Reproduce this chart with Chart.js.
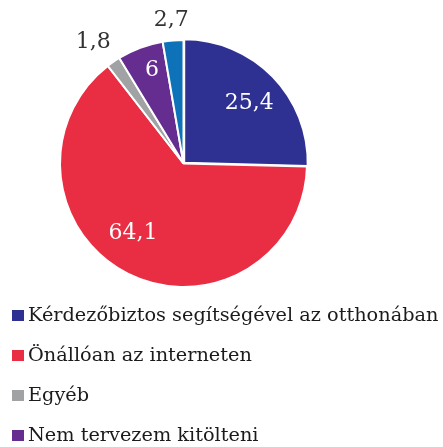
<!DOCTYPE html>
<html lang="hu">
<head>
    <meta charset="UTF-8">
    <title>Népszámlálás kitöltése</title>
    <script src="https://cdn.jsdelivr.net/npm/chart.js"></script>
    <style>
        html, body { margin: 0; padding: 0; background: #fff; overflow: hidden; }
        #wrap { position: relative; width: 443px; height: 447px; }
        #legend { position: absolute; left: 12px; top: 295px; font-family: "DejaVu Serif", serif; font-size: 19.3px; color: #1c1a1b; }
        #legend div { height: 40px; line-height: 40px; white-space: nowrap; }
        #legend span.box { display: inline-block; width: 12px; height: 11px; margin-right: 4px; vertical-align: baseline; }
    </style>
</head>
<body>
<div id="wrap">
    <canvas id="pieChart" width="443" height="300"></canvas>
    <div id="legend"></div>
</div>
<script>
    const categories = [
        'Kérdezőbiztos segítségével az otthonában',
        'Önállóan az interneten',
        'Egyéb',
        'Nem tervezem kitölteni',
        ''
    ];
    const shares = [25.4, 64.1, 1.8, 6, 2.7];
    const colors = ['#2e3192', '#e92e44', '#a0a2a3', '#662d91', '#0e72b9'];

    const fmt = v => String(v).replace('.', ',');

    // where each value label sits: fraction of radius inside, or px outside the rim; angle nudge in degrees
    const labelPlace = [
        { r: 0.72, da: 2 },
        { r: 0.70, da: 9 },
        { out: 28, da: -2 },
        { r: 0.80, da: 2 },
        { out: 20, da: 0 }
    ];

    const sliceLabels = {
        id: 'sliceLabels',
        afterDatasetsDraw(chart) {
            const ctx = chart.ctx;
            const meta = chart.getDatasetMeta(0);
            ctx.save();
            ctx.font = '22px "DejaVu Serif"';
            ctx.textAlign = 'center';
            ctx.textBaseline = 'middle';
            meta.data.forEach((arc, i) => {
                const p = arc.getProps(['x', 'y', 'startAngle', 'endAngle', 'outerRadius'], true);
                const lp = labelPlace[i];
                const mid = (p.startAngle + p.endAngle) / 2 + lp.da * Math.PI / 180;
                const outside = lp.out !== undefined;
                const r = outside ? p.outerRadius + lp.out : p.outerRadius * lp.r;
                ctx.fillStyle = outside ? '#333333' : '#ffffff';
                ctx.fillText(fmt(shares[i]), p.x + Math.cos(mid) * r, p.y + Math.sin(mid) * r);
            });
            ctx.restore();
        }
    };

    const htmlLegend = {
        id: 'htmlLegend',
        afterUpdate(chart) {
            const box = document.getElementById('legend');
            box.innerHTML = '';
            const ds = chart.data.datasets[0];
            chart.data.labels.forEach((label, i) => {
                if (!label) return;
                const row = document.createElement('div');
                const sw = document.createElement('span');
                sw.className = 'box';
                sw.style.background = ds.backgroundColor[i];
                row.appendChild(sw);
                row.appendChild(document.createTextNode(label));
                box.appendChild(row);
            });
        }
    };

    new Chart(document.getElementById('pieChart'), {
        type: 'pie',
        data: {
            labels: categories,
            datasets: [{
                data: shares,
                backgroundColor: colors,
                borderColor: '#ffffff',
                borderWidth: 2,
                offset: [4, 0, 0, 0, 0]
            }]
        },
        options: {
            responsive: false,
            animation: false,
            devicePixelRatio: 1,
            layout: { padding: { left: 57, right: 133, top: 37, bottom: 10 } },
            plugins: {
                legend: { display: false },
                tooltip: { enabled: false }
            }
        },
        plugins: [sliceLabels, htmlLegend]
    });
</script>
</body>
</html>
